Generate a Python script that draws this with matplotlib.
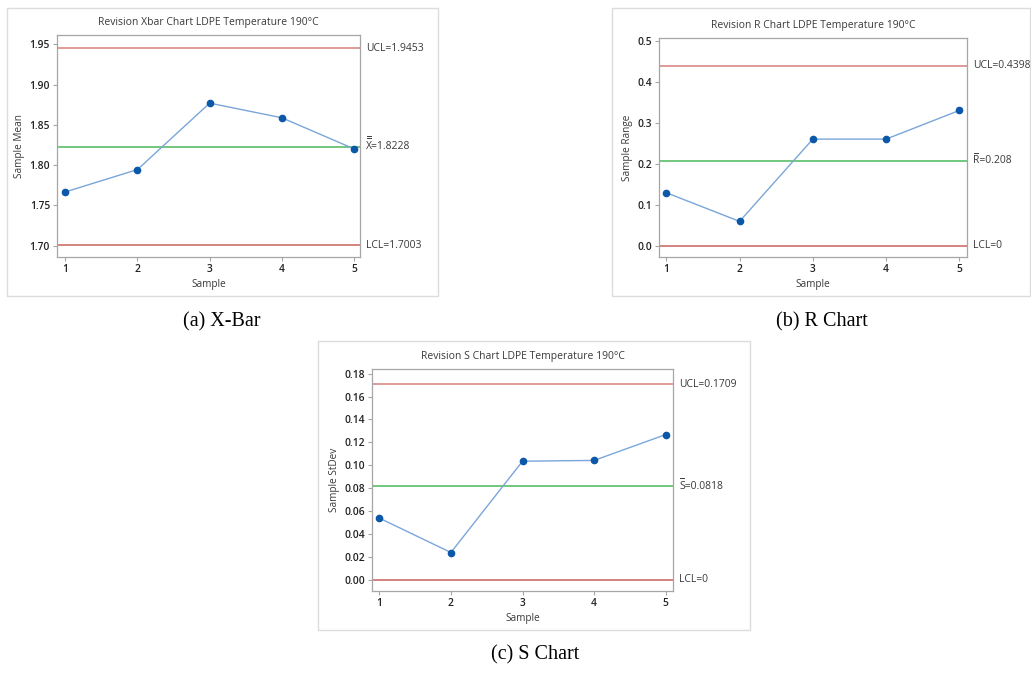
import matplotlib
matplotlib.use("Agg")
import matplotlib.pyplot as plt
from matplotlib.patches import Rectangle
from matplotlib.lines import Line2D
from matplotlib.transforms import offset_copy

samples = [1, 2, 3, 4, 5]

xbar_values = [1.7667, 1.7945, 1.8770, 1.8588, 1.8202]
xbar_limits = (1.9453, 1.8228, 1.7003)
xbar_ticks = [1.70, 1.75, 1.80, 1.85, 1.90, 1.95]

r_values = [0.130, 0.060, 0.261, 0.261, 0.331]
r_limits = (0.4398, 0.208, 0.0)
r_ticks = [0.0, 0.1, 0.2, 0.3, 0.4, 0.5]

s_values = [0.0538, 0.0237, 0.1035, 0.1042, 0.1268]
s_limits = (0.1709, 0.0818, 0.0)
s_ticks = [0.00, 0.02, 0.04, 0.06, 0.08, 0.10, 0.12, 0.14, 0.16, 0.18]

RED = "#c9605c"
GREEN = "#4cb85a"
BLUE_LINE = "#7aa6d9"
BLUE_DOT = "#0b57a8"
SPINE = "#a6a6a6"
TEXT = "#3a3a3a"

W, H = 1031, 673
fig = plt.figure(figsize=(W / 100, H / 100), dpi=100)
plt.rcParams["font.family"] = ["Open Sans", "DejaVu Sans"]


def px_axes(left, top, right, bottom):
    return fig.add_axes([left / W, 1 - bottom / H, (right - left) / W, (bottom - top) / H])


def frame(left, top, right, bottom):
    fig.patches.append(Rectangle((left / W, 1 - bottom / H), (right - left) / W,
                                 (bottom - top) / H, transform=fig.transFigure,
                                 fill=False, edgecolor="#dcdcdc", linewidth=1.0))


def draw_chart(ax, values, limits, ticks, fmt, ylim, xlim, title, ylabel, labels, bars):
    ucl, cl, lcl = limits
    ax.axhline(ucl, color=RED, lw=1.1, alpha=0.8)
    ax.axhline(lcl, color=RED, lw=1.1)
    ax.axhline(cl, color=GREEN, lw=1.1)
    ax.plot(samples, values, color=BLUE_LINE, lw=1.0, marker="o", ms=4.5,
            mfc=BLUE_DOT, mec=BLUE_DOT, zorder=3)
    ax.set_xlim(*xlim)
    ax.set_ylim(*ylim)
    ax.set_xticks(samples)
    ax.set_yticks(ticks)
    ax.set_yticklabels([fmt.format(t) for t in ticks])
    for sp in ax.spines.values():
        sp.set_color(SPINE)
        sp.set_linewidth(0.9)
    ax.tick_params(length=3, width=0.8, color=SPINE, labelsize=7.4, labelcolor="#222222", pad=2)
    for lab in ax.get_xticklabels() + ax.get_yticklabels():
        lab.set_fontweight("semibold")
    ax.set_title(title, fontsize=7.5, color=TEXT, pad=7)
    ax.set_xlabel("Sample", fontsize=7.2, color=TEXT, labelpad=3)
    ax.set_ylabel(ylabel, fontsize=7.2, color=TEXT, labelpad=3)
    tr = ax.get_yaxis_transform()
    for y, s in zip(limits, labels):
        ax.text(1.02, y, s, transform=tr, ha="left", va="center", fontsize=7.5, color=TEXT)
    # bar(s) over the centre-line symbol
    for dy in bars:
        t = offset_copy(tr, fig=fig, x=0, y=dy, units="points")
        ax.add_line(Line2D([1.023, 1.036], [cl, cl], transform=t, color=TEXT,
                           lw=0.7, clip_on=False))


frame(7, 8, 438, 296)
frame(612, 8, 1030, 296)
frame(318, 341, 750, 630)

ax_a = px_axes(57, 35, 360, 257)
draw_chart(ax_a, xbar_values, xbar_limits, xbar_ticks, "{:.2f}", (1.6859, 1.9616), (0.885, 5.083),
           "Revision Xbar Chart LDPE Temperature 190°C", "Sample Mean",
           ["UCL=1.9453", "X=1.8228", "LCL=1.7003"], [6.2, 7.5])

ax_b = px_axes(659, 38, 967, 257)
draw_chart(ax_b, r_values, r_limits, r_ticks, "{:.1f}", (-0.027, 0.508), (0.90, 5.105),
           "Revision R Chart LDPE Temperature 190°C", "Sample Range",
           ["UCL=0.4398", "R=0.208", "LCL=0"], [5.5])

ax_c = px_axes(372, 369, 673, 591)
draw_chart(ax_c, s_values, s_limits, s_ticks, "{:.2f}", (-0.00994, 0.1841), (0.898, 5.102),
           "Revision S Chart LDPE Temperature 190°C", "Sample StDev",
           ["UCL=0.1709", "S=0.0818", "LCL=0"], [5.5])

captions = [("(a) X-Bar", 222, 322), ("(b) R Chart", 822, 322), ("(c) S Chart", 535, 655)]
for s, x, y in captions:
    fig.text(x / W, 1 - y / H, s, ha="center", va="center", fontsize=14.5,
             family=["Liberation Serif", "DejaVu Serif"], color="black")

fig.savefig("out.png", dpi=100)
